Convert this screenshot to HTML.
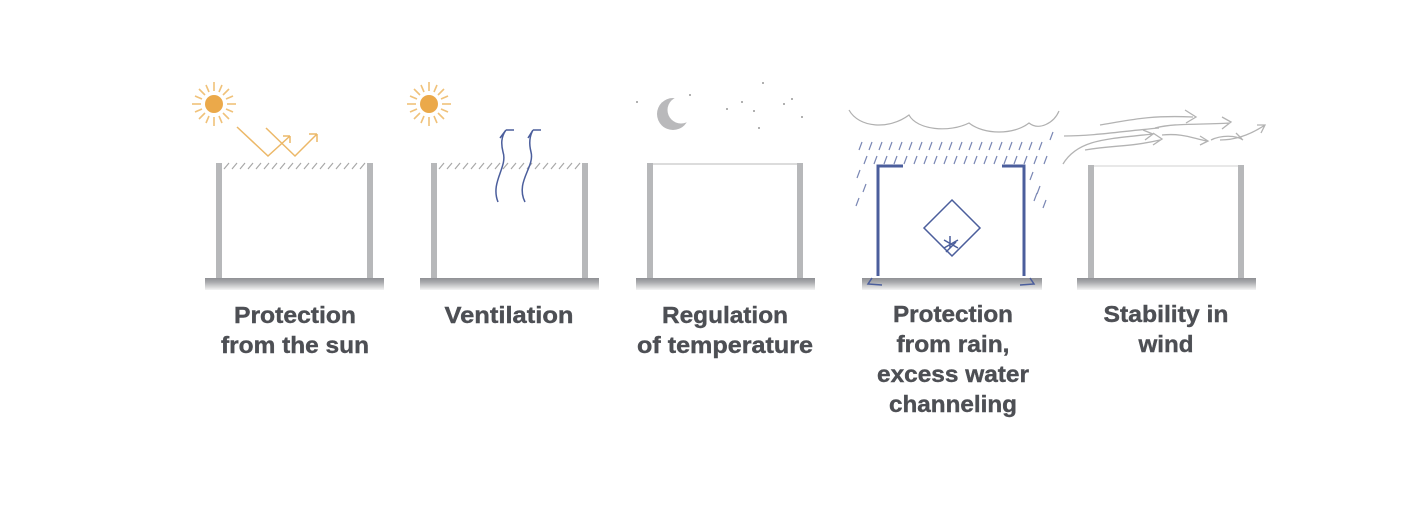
<!DOCTYPE html>
<html><head><meta charset="utf-8"><style>
html,body{margin:0;padding:0;background:#fff;}
svg{display:block;}
text{font-family:"Liberation Sans",sans-serif;font-weight:bold;fill:#4d4f54;font-size:23px;stroke:#4d4f54;stroke-width:0.4px;}
</style></head><body>
<svg width="1414" height="505" viewBox="0 0 1414 505" xmlns="http://www.w3.org/2000/svg">
<defs>
<linearGradient id="g" x1="0" y1="0" x2="0" y2="1">
<stop offset="0" stop-color="#8f9094"/><stop offset="0.35" stop-color="#a9aaad"/><stop offset="1" stop-color="#f4f4f4"/>
</linearGradient>
<mask id="mm"><rect x="600" y="60" width="200" height="100" fill="#fff"/><circle cx="681" cy="110" r="13.5" fill="#000"/></mask>
<g id="sun">
<circle r="9" fill="#eba94a"/>
<g stroke="#f0c27a" stroke-width="1.6">
<line x1="0" y1="-13" x2="0" y2="-22"/><line x1="0" y1="13" x2="0" y2="22"/>
<line x1="-13" y1="0" x2="-22" y2="0"/><line x1="13" y1="0" x2="22" y2="0"/>
<line x1="9" y1="-9" x2="15" y2="-15"/><line x1="-9" y1="-9" x2="-15" y2="-15"/>
<line x1="9" y1="9" x2="15" y2="15"/><line x1="-9" y1="9" x2="-15" y2="15"/>
<line x1="5" y1="-12" x2="8" y2="-19"/><line x1="-5" y1="-12" x2="-8" y2="-19"/>
<line x1="5" y1="12" x2="8" y2="19"/><line x1="-5" y1="12" x2="-8" y2="19"/>
<line x1="12" y1="-5" x2="19" y2="-8"/><line x1="-12" y1="-5" x2="-19" y2="-8"/>
<line x1="12" y1="5" x2="19" y2="8"/><line x1="-12" y1="5" x2="-19" y2="8"/>
</g>
</g>
</defs>

<rect x="205" y="278" width="179" height="12" fill="url(#g)"/>
<rect x="420" y="278" width="179" height="12" fill="url(#g)"/>
<rect x="636" y="278" width="179" height="12" fill="url(#g)"/>
<rect x="862" y="278" width="180" height="12" fill="url(#g)"/>
<rect x="1077" y="278" width="179" height="12" fill="url(#g)"/>

<g fill="#b7b8ba">
<rect x="216" y="163" width="6" height="115"/><rect x="367" y="163" width="6" height="115"/>
<rect x="431" y="163" width="6" height="115"/><rect x="582" y="163" width="6" height="115"/>
<rect x="647" y="163" width="6" height="115"/><rect x="797" y="163" width="6" height="115"/>
<rect x="1088" y="165" width="6" height="113"/><rect x="1238" y="165" width="6" height="113"/>
</g>
<line x1="653" y1="164" x2="797" y2="164" stroke="#c8c8c8" stroke-width="1.2"/>
<line x1="1094" y1="166" x2="1238" y2="166" stroke="#d0d0d0" stroke-width="1"/>

<g stroke="#a8a8a8" stroke-width="1.2">
<path d="M224 169l5-6M232 169l5-6M240 169l5-6M248 169l5-6M256 169l5-6M264 169l5-6M272 169l5-6M280 169l5-6M288 169l5-6M296 169l5-6M304 169l5-6M312 169l5-6M320 169l5-6M328 169l5-6M336 169l5-6M344 169l5-6M352 169l5-6M360 169l5-6"/>
<path d="M439 169l5-6M447 169l5-6M455 169l5-6M463 169l5-6M471 169l5-6M479 169l5-6M487 169l5-6M495 169l5-6M503 169l5-6M511 169l5-6M519 169l5-6M527 169l5-6M535 169l5-6M543 169l5-6M551 169l5-6M559 169l5-6M567 169l5-6M575 169l5-6"/>
</g>

<use href="#sun" x="214" y="104"/>
<use href="#sun" x="429" y="104"/>
<g stroke="#ecb868" stroke-width="1.5" fill="none">
<path d="M237 127l31 29 22-20M290 136l-7 0M290 136l0 7"/>
<path d="M266 128l29 28 22-22M317 134l-8 0M317 134l0 8"/>
</g>

<g stroke="#4b5e9c" stroke-width="1.5" fill="none">
<path d="M498 202c-8-20 10-35 5-50c-2-8-2-15 3-22M506 130l-6 8M506 130l8 0"/>
<path d="M525 202c-10-20 10-35 6-50c-2-8-2-15 2-22M533 130l-5 8M533 130l8 0"/>
</g>

<circle cx="673" cy="114" r="16" fill="#b9b9bb" mask="url(#mm)"/>
<g fill="#999">
<circle cx="637" cy="102" r="1"/><circle cx="690" cy="95" r="1"/><circle cx="727" cy="109" r="1"/>
<circle cx="742" cy="102" r="1"/><circle cx="754" cy="111" r="1"/><circle cx="763" cy="83" r="1"/>
<circle cx="784" cy="104" r="1"/><circle cx="792" cy="99" r="1"/><circle cx="802" cy="117" r="1"/>
<circle cx="759" cy="128" r="1"/>
</g>

<g stroke="#b0b0b0" stroke-width="1.2" fill="none">
<path d="M849 110c10 18 40 20 60 5c8 15 40 18 60 8c15 12 45 12 60 0c10 8 25 0 30-12"/>
</g>
<g stroke="#7a87b4" stroke-width="1.2">
<path d="M862 142l-3 8M872 142l-3 8M882 142l-3 8M892 142l-3 8M902 142l-3 8M912 142l-3 8M922 142l-3 8M932 142l-3 8M942 142l-3 8M952 142l-3 8M962 142l-3 8M972 142l-3 8M982 142l-3 8M992 142l-3 8M1002 142l-3 8M1012 142l-3 8M1022 142l-3 8M1032 142l-3 8M1042 142l-3 8M1053 132l-3 8"/>
<path d="M867 156l-3 8M877 156l-3 8M887 156l-3 8M897 156l-3 8M907 156l-3 8M917 156l-3 8M927 156l-3 8M937 156l-3 8M947 156l-3 8M957 156l-3 8M967 156l-3 8M977 156l-3 8M987 156l-3 8M997 156l-3 8M1007 156l-3 8M1017 156l-3 8M1027 156l-3 8M1037 156l-3 8M1047 156l-3 8"/>
<path d="M860 170l-3 8M866 184l-3 8M859 198l-3 8M1033 172l-3 8M1040 186l-3 8M1046 200l-3 8M1037 193l-3 8"/>
</g>
<g stroke="#4b5e9c" stroke-width="3" fill="none">
<path d="M903 166h-25v110"/><path d="M1002 166h22v110"/>
</g>
<g stroke="#4b5e9c" stroke-width="1.5" fill="none">
<path d="M872 278l-4 6 14 1M1030 278l4 6-14 1"/>
<path d="M952 200l28 28-28 28-28-28z"/>
<path d="M950 236v12M944 240l14 8M958 240l-14 8M946 252l10-10"/>
</g>

<g stroke="#b3b3b3" stroke-width="1.3" fill="none">
<path d="M1063 164c15-25 45-25 90-30M1143 130l10 4-8 6"/>
<path d="M1064 136c30 0 60-5 95-8"/>
<path d="M1100 125c30-5 50-10 93-8M1185 110l11 7-10 6"/>
<path d="M1085 150c30-5 45-3 75-10M1153 133l9 6-9 6"/>
<path d="M1155 128c20-5 40-3 75-5M1222 117l9 5-9 7"/>
<path d="M1162 135c20-2 30 3 45 6M1200 136l8 5-8 4"/>
<path d="M1211 140c10-5 25-5 32 0M1236 133l6 6"/>
<path d="M1220 140c15 0 30-5 45-15M1257 125l8 0-4 8"/>
</g>

<g text-anchor="middle">
<text x="295" y="323" textLength="122" lengthAdjust="spacingAndGlyphs">Protection</text>
<text x="295" y="353" textLength="148" lengthAdjust="spacingAndGlyphs">from the sun</text>
<text x="509" y="323" textLength="129" lengthAdjust="spacingAndGlyphs">Ventilation</text>
<text x="725" y="323" textLength="126" lengthAdjust="spacingAndGlyphs">Regulation</text>
<text x="725" y="353" textLength="176" lengthAdjust="spacingAndGlyphs">of temperature</text>
<text x="953" y="322" textLength="120" lengthAdjust="spacingAndGlyphs">Protection</text>
<text x="953" y="352" textLength="113" lengthAdjust="spacingAndGlyphs">from rain,</text>
<text x="953" y="382" textLength="152" lengthAdjust="spacingAndGlyphs">excess water</text>
<text x="953" y="412" textLength="128" lengthAdjust="spacingAndGlyphs">channeling</text>
<text x="1166" y="322" textLength="125" lengthAdjust="spacingAndGlyphs">Stability in</text>
<text x="1166" y="352" textLength="55" lengthAdjust="spacingAndGlyphs">wind</text>
</g>
</svg>
</body></html>
